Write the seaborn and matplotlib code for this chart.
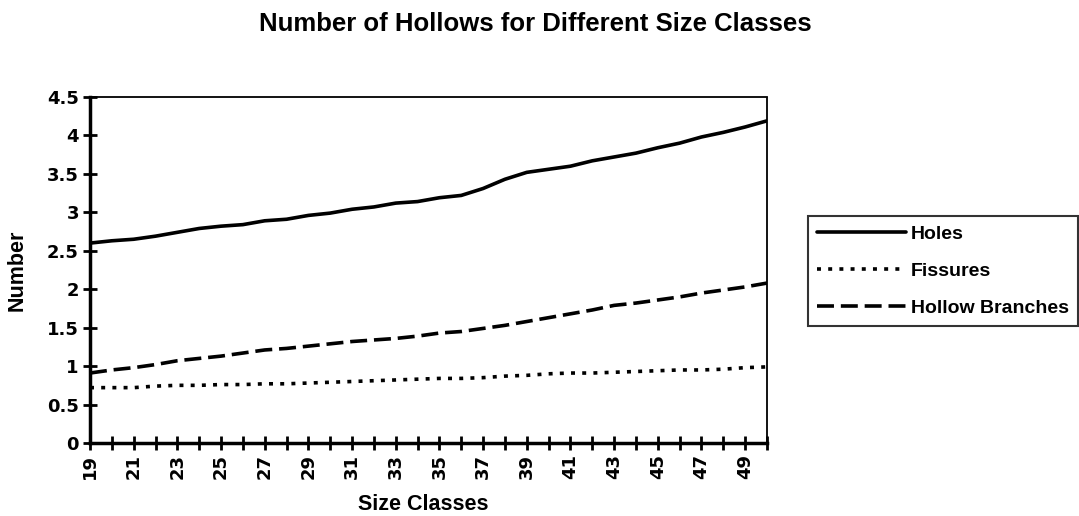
import matplotlib
matplotlib.use("Agg")
import matplotlib.pyplot as plt
import seaborn as sns
import pandas as pd
from matplotlib.ticker import MultipleLocator

size_classes = list(range(19, 51))
holes = [2.60, 2.63, 2.65, 2.69, 2.74, 2.79, 2.82, 2.84, 2.89, 2.91,
         2.96, 2.99, 3.04, 3.07, 3.12, 3.14, 3.19, 3.22, 3.31, 3.43,
         3.52, 3.56, 3.60, 3.67, 3.72, 3.77, 3.84, 3.90, 3.98, 4.04,
         4.11, 4.19]
fissures = [0.72, 0.72, 0.72, 0.74, 0.75, 0.75, 0.76, 0.76, 0.77, 0.77,
            0.78, 0.79, 0.80, 0.81, 0.82, 0.83, 0.84, 0.84, 0.85, 0.87,
            0.88, 0.90, 0.91, 0.91, 0.92, 0.93, 0.94, 0.95, 0.95, 0.96,
            0.98, 0.99]
hollow_branches = [0.91, 0.95, 0.98, 1.02, 1.07, 1.10, 1.13, 1.17, 1.21, 1.23,
                   1.26, 1.29, 1.32, 1.34, 1.36, 1.39, 1.43, 1.45, 1.49, 1.53,
                   1.58, 1.63, 1.68, 1.73, 1.79, 1.82, 1.86, 1.90, 1.95, 1.99,
                   2.03, 2.08]
series_names = ["Holes", "Fissures", "Hollow Branches"]
y_ticks = [0, 0.5, 1, 1.5, 2, 2.5, 3, 3.5, 4, 4.5]
x_labels = list(range(19, 50, 2))

sns.set_theme(style="white")
plt.rcParams['font.family'] = ['DejaVu Sans']
for k in ["text.color", "axes.labelcolor", "xtick.color", "ytick.color"]:
    plt.rcParams[k] = "black"

df = pd.DataFrame({"size": size_classes, "Holes": holes,
                   "Fissures": fissures, "Hollow Branches": hollow_branches})

fig = plt.figure(figsize=(10.79, 5.16), dpi=100)
ax = fig.add_axes([90/1079, 1-443/516, (767-90)/1079, (443-97)/516])

styles = {
    "Holes": dict(linestyle="-"),
    "Fissures": dict(linestyle=(0, (1.1, 2.0))),
    "Hollow Branches": dict(linestyle=(0, (4.7, 1.9))),
}
for name in series_names:
    sns.lineplot(data=df, x="size", y=name, ax=ax, color="black", linewidth=2.6,
                 label=name, **styles[name])

ax.set_xlim(19, 50)
ax.set_ylim(0, 4.5)
ax.set_yticks(y_ticks)
ax.set_yticklabels([f"{v:g}" for v in y_ticks], fontsize=13, fontweight="bold")
ax.set_xticks(x_labels)
ax.set_xticklabels([str(v) for v in x_labels], rotation=90, fontsize=13, fontweight="bold")
ax.xaxis.set_minor_locator(MultipleLocator(1))
ax.tick_params(axis="both", which="both", direction="inout", length=10, width=2,
               color="black", left=True, bottom=True, pad=3)
ax.tick_params(axis="x", which="minor", length=10, width=2)

for side in ["left", "bottom"]:
    ax.spines[side].set_color("black")
    ax.spines[side].set_linewidth(2.5)
for side in ["top", "right"]:
    ax.spines[side].set_color("black")
    ax.spines[side].set_linewidth(1.3)
    ax.spines[side].set_linestyle((0, (1, 1)))

ax.set_xlabel("Size Classes", fontsize=15.5, fontweight="bold",
              family="Liberation Sans", va="center")
ax.xaxis.set_label_coords(0.5 - 5/677, (443-505)/346)
ax.set_ylabel("Number", fontsize=15.5, fontweight="bold",
              family="Liberation Sans", va="center")
ax.yaxis.set_label_coords((17-90)/677, (443-270)/346)
ax.grid(False)

fig.suptitle("Number of Hollows for Different Size Classes", x=535/1079, y=1-24/516,
             va="center", fontsize=18.5, fontweight="bold", family="Liberation Sans")

leg = ax.legend(loc="center left", bbox_to_anchor=(808/1079, 1-271/516),
                bbox_transform=fig.transFigure, frameon=True, fancybox=False,
                edgecolor="black", handlelength=4.6, handletextpad=0.25,
                borderpad=0.45, labelspacing=1.0, borderaxespad=0,
                prop=dict(family="Liberation Sans", weight="bold", size=14))
leg.get_frame().set_linewidth(1.5)

fig.savefig("out.png", dpi=100, facecolor="white")
